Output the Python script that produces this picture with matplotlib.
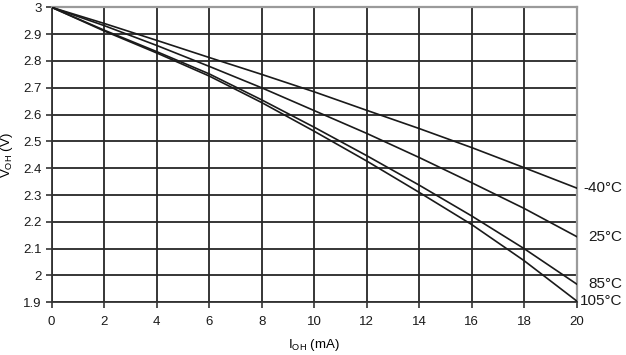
import matplotlib
matplotlib.use("Agg")
import matplotlib.pyplot as plt
import matplotlib.transforms as mtransforms

plt.rcParams['font.family'] = ['Liberation Sans', 'DejaVu Sans']
plt.rcParams['mathtext.fontset'] = 'custom'
plt.rcParams['mathtext.rm'] = 'Liberation Sans'
plt.rcParams['mathtext.it'] = 'Liberation Sans'

current_ma = [0, 2, 4, 6, 8, 10, 12, 14, 16, 18, 20]
v_m40 = [3.0, 2.940, 2.877, 2.813, 2.750, 2.685, 2.616, 2.548, 2.477, 2.402, 2.326]
v_25 = [3.0, 2.932, 2.858, 2.780, 2.700, 2.615, 2.530, 2.440, 2.346, 2.250, 2.145]
v_85 = [3.0, 2.915, 2.835, 2.752, 2.655, 2.553, 2.447, 2.337, 2.222, 2.100, 1.968]
v_105 = [3.0, 2.912, 2.830, 2.744, 2.645, 2.538, 2.427, 2.310, 2.190, 2.055, 1.905]
series = [("-40°C", v_m40), ("25°C", v_25), ("85°C", v_85), ("105°C", v_105)]

x_ticks = [0, 2, 4, 6, 8, 10, 12, 14, 16, 18, 20]
y_ticks = [1.9, 2.0, 2.1, 2.2, 2.3, 2.4, 2.5, 2.6, 2.7, 2.8, 2.9, 3.0]
y_tick_labels = ["1.9", "2", "2.1", "2.2", "2.3", "2.4", "2.5", "2.6", "2.7", "2.8", "2.9", "3"]

fig = plt.figure(figsize=(6.26, 3.55), dpi=100)
ax = fig.add_axes([0.0823, 0.1485, 0.9212 - 0.0823, 0.9794 - 0.1485])

ax.set_xlim(0, 20)
ax.set_ylim(1.9, 3.0)
ax.set_xticks(x_ticks)
ax.set_yticks(y_ticks)
ax.set_yticklabels(y_tick_labels)
ax.tick_params(axis='both', labelsize=9.5, length=4, width=1.2, color='#333333',
               direction='out', labelcolor='#1a1a1a')
ax.tick_params(axis='x', pad=6)
ax.tick_params(axis='y', pad=3)

ax.grid(True, color='#262626', linewidth=1.3)
ax.set_axisbelow(True)
for side in ['top', 'right']:
    ax.spines[side].set_color('#9a9a9a')
    ax.spines[side].set_linewidth(1.6)
for side in ['left', 'bottom']:
    ax.spines[side].set_color('#333333')
    ax.spines[side].set_linewidth(1.3)

for name, vals in series:
    ax.plot(current_ma, vals, color='#1a1a1a', linewidth=1.2, zorder=3)

trans = mtransforms.blended_transform_factory(fig.transFigure, ax.transData)
for name, vals in series:
    ax.text(622 / 626, vals[-1], name, transform=trans, ha='right', va='center',
            fontsize=11, color='#1a1a1a', clip_on=False)

ax.set_xlabel(r"$\mathregular{I_{OH}}$ (mA)", fontsize=9.5, labelpad=6)
ax.set_ylabel(r"$\mathregular{V_{OH}}$ (V)", fontsize=9.5, labelpad=6)

fig.savefig("out.png", dpi=100)
